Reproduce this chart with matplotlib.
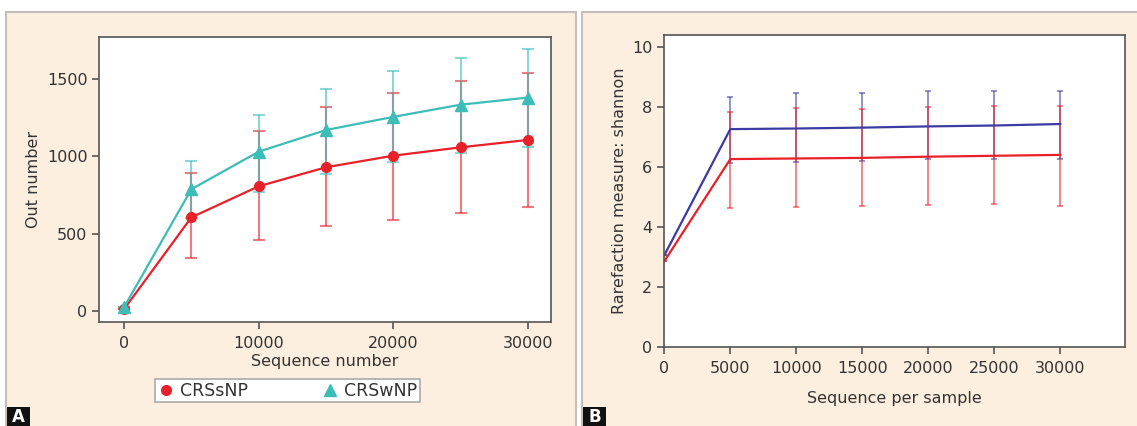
import matplotlib.pyplot as plt
from matplotlib.patches import Rectangle

plt.rcParams['font.family'] = ['DejaVu Sans']
plt.rcParams['font.size'] = 11.5

# panel A: OTU rarefaction
seq_a = [0, 5000, 10000, 15000, 20000, 25000, 30000]
crss_mean = [12, 606, 807, 930, 1005, 1059, 1107]
crss_low = [12, 345, 457, 548, 591, 636, 671]
crss_high = [12, 895, 1165, 1318, 1413, 1487, 1542]
crsw_mean = [25, 788, 1031, 1171, 1256, 1335, 1381]
crsw_low = [25, 603, 772, 889, 964, 1025, 1063]
crsw_high = [25, 973, 1267, 1437, 1553, 1636, 1696]

# panel B: shannon rarefaction
seq_b = [0, 5000, 10000, 15000, 20000, 25000, 30000]
blue_mean = [3.05, 7.26, 7.28, 7.31, 7.35, 7.38, 7.43]
blue_low = [3.05, 6.13, 6.17, 6.21, 6.25, 6.27, 6.26]
blue_high = [3.05, 8.33, 8.45, 8.48, 8.52, 8.54, 8.53]
red_mean = [2.85, 6.26, 6.28, 6.30, 6.34, 6.37, 6.40]
red_low = [2.85, 4.62, 4.67, 4.68, 4.72, 4.76, 4.71]
red_high = [2.85, 7.84, 7.95, 7.94, 8.00, 8.02, 8.02]

RED = '#e8202a'
TEAL = '#3dbdb8'
BLUE = '#3b3ba3'
BEIGE = '#fdefdf'
SPINE = '#555555'
TXT = '#333333'

W, H = 1137, 426
fig = plt.figure(figsize=(W / 100, H / 100), dpi=100)
fig.patch.set_facecolor('white')


def px_rect(x0, y0, x1, y1, **kw):
    # rectangle in pixel coords, y measured from the top
    return Rectangle((x0 / W, 1 - y1 / H), (x1 - x0) / W, (y1 - y0) / H,
                     transform=fig.transFigure, **kw)


# panel backgrounds (behind the axes)
fig.patches.append(px_rect(6, 12, 576, 428, facecolor=BEIGE, edgecolor='#c4bfba', lw=1.5, zorder=-5))
fig.patches.append(px_rect(582, 12, 1140, 428, facecolor=BEIGE, edgecolor='#c4bfba', lw=1.5, zorder=-5))


def errs(mean, low, high):
    return [[m - l for m, l in zip(mean, low)], [h - m for m, h in zip(mean, high)]]


def style_axes(ax):
    for s in ax.spines.values():
        s.set_color(SPINE)
        s.set_linewidth(1.2)
    ax.tick_params(direction='out', length=5, width=1.2, color=SPINE, labelcolor=TXT)


# ---- panel A
axA = fig.add_axes([99.3 / W, 1 - 322 / H, (551 - 99.3) / W, (322 - 37.3) / H])
axA.set_facecolor('white')
axA.errorbar(seq_a, crss_mean, yerr=errs(crss_mean, crss_low, crss_high), fmt='none',
             ecolor=RED, alpha=0.6, elinewidth=1.5, capsize=4, capthick=1.5)
axA.errorbar(seq_a, crsw_mean, yerr=errs(crsw_mean, crsw_low, crsw_high), fmt='none',
             ecolor=TEAL, alpha=0.6, elinewidth=1.5, capsize=4, capthick=1.5)
axA.plot(seq_a, crss_mean, color=RED, lw=1.6, marker='o', ms=7, label='CRSsNP')
axA.plot(seq_a, crsw_mean, color=TEAL, lw=1.6, marker='^', ms=9, label='CRSwNP')
axA.set_xlim(-1840, 31720)
axA.set_ylim(-71, 1771)
axA.set_xticks([0, 10000, 20000, 30000])
axA.set_yticks([0, 500, 1000, 1500])
style_axes(axA)
axA.tick_params(axis='x', pad=5)
axA.set_xlabel('Sequence number', labelpad=2, color=TXT)
axA.set_ylabel('Out number', labelpad=4, color=TXT)
axA.legend(loc='upper left', bbox_to_anchor=(155 / W, 1 - 406 / H, (420 - 155) / W, 27 / H),
           bbox_transform=fig.transFigure, ncol=2, mode='expand', frameon=True,
           fancybox=False, edgecolor='#aaaaaa', borderaxespad=0, handlelength=1,
           handletextpad=0.3, borderpad=0.15, columnspacing=4, fontsize=12.5)
leg = axA.get_legend()
for line in leg.get_lines():
    line.set_linestyle('none')
for t in leg.get_texts():
    t.set_color(TXT)
leg.get_frame().set_linewidth(1.2)
leg.get_frame().set_alpha(1)

# ---- panel B
axB = fig.add_axes([664.3 / W, 1 - 346.7 / H, (1125 - 664.3) / W, (346.7 - 35) / H])
axB.set_facecolor('white')
axB.errorbar(seq_b, blue_mean, yerr=errs(blue_mean, blue_low, blue_high), fmt='none',
             ecolor=BLUE, alpha=0.55, elinewidth=1.4, capsize=2.5, capthick=1.4)
axB.errorbar(seq_b, red_mean, yerr=errs(red_mean, red_low, red_high), fmt='none',
             ecolor=RED, alpha=0.55, elinewidth=1.4, capsize=2.5, capthick=1.4)
axB.plot(seq_b, blue_mean, color=BLUE, lw=1.6)
axB.plot(seq_b, red_mean, color=RED, lw=1.6)
axB.set_xlim(0, 34900)
axB.set_ylim(0, 10.4)
axB.set_xticks([0, 5000, 10000, 15000, 20000, 25000, 30000])
axB.set_yticks([0, 2, 4, 6, 8, 10])
style_axes(axB)
axB.tick_params(axis='x', pad=5)
axB.set_xlabel('Sequence per sample', labelpad=11, color=TXT)
axB.set_ylabel('Rarefaction measure: shannon', labelpad=4, color=TXT)

# panel letters
for x0, letter in [(7, 'A'), (583, 'B')]:
    fig.patches.append(px_rect(x0, 407, x0 + 23, 428, facecolor='#111111', edgecolor='none', zorder=5))
    fig.text((x0 + 11.5) / W, 1 - 417 / H, letter, color='white', fontsize=12,
             fontweight='bold', ha='center', va='center', zorder=6)

fig.savefig('out.png', dpi=100, facecolor=fig.get_facecolor())
